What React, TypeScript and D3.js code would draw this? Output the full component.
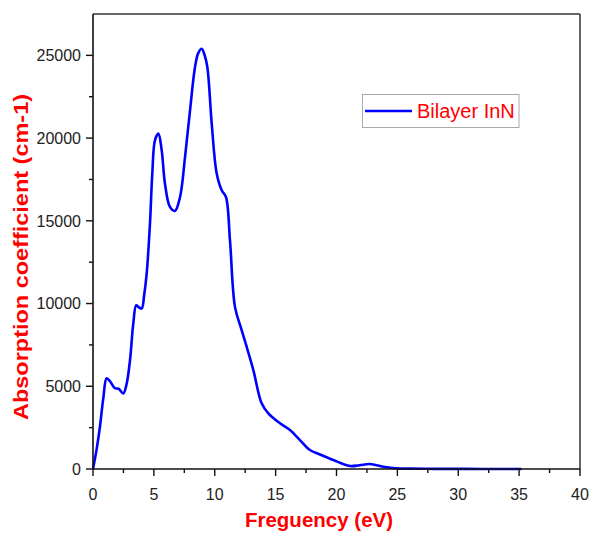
import React from "react";
import * as d3 from "d3";

const freq: number[] = [0, 0.3, 0.57, 0.85, 1.12, 1.4, 1.8, 2.1, 2.49, 2.75, 3.04, 3.31, 3.55, 3.75, 4.0, 4.2, 4.41, 4.68, 4.87, 5.09, 5.37, 5.64, 5.91, 6.32, 6.73, 7.15, 7.56, 7.97, 8.38, 8.65, 8.93, 9.15, 9.39, 9.75, 10.16, 10.57, 10.92, 11.25, 11.66, 12.16, 12.62, 13.17, 13.85, 14.4, 15.36, 16.18, 17.0, 17.82, 18.6, 19.74, 21.1, 21.9, 22.75, 23.84, 24.9, 26, 28, 30, 32, 35.2];
const absorption: number[] = [0, 1200, 2555, 4300, 5480, 5300, 4880, 4850, 4570, 5100, 6580, 8800, 9900, 9780, 9700, 10500, 11820, 14840, 17860, 19870, 20270, 19270, 17250, 15840, 15600, 16440, 18860, 21680, 24300, 25150, 25400, 25050, 24300, 20880, 17860, 16850, 16440, 13830, 9800, 8510, 7390, 5980, 3970, 3360, 2760, 2355, 1750, 1150, 890, 540, 180, 230, 300, 140, 40, 20, 10, 6, 4, 2];

const xTicks: number[] = [0, 5, 10, 15, 20, 25, 30, 35, 40];
const yTicks: number[] = [0, 5000, 10000, 15000, 20000, 25000];
const xMinor: number[] = [2.5, 7.5, 12.5, 17.5, 22.5, 27.5, 32.5, 37.5];
const yMinor: number[] = [2500, 7500, 12500, 17500, 22500];
const seriesName = "Bilayer InN";
const xTitle = "Freguency (eV)";
const yTitle = "Absorption coefficient (cm-1)";

const W = 591, H = 533;
const L = 93, R = 580, T = 14, B = 469;
const font = "'Liberation Sans', Arial, Helvetica, sans-serif";

export default function App() {
  const x = d3.scaleLinear().domain([0, 40]).range([L, R]);
  const y = d3.scaleLinear().domain([0, 27500]).range([B, T]);
  const pts = freq.map((f, i) => [f, absorption[i]] as [number, number]);
  const line = d3
    .line<[number, number]>()
    .x((d) => x(d[0]))
    .y((d) => y(d[1]))
    .curve(d3.curveCatmullRom.alpha(0.5));

  return (
    <svg
      width={W}
      height={H}
      style={{ position: "absolute", left: 0, top: 0, background: "#fff" }}
      fontFamily={font}
    >
      <rect x={0} y={0} width={W} height={H} fill="#fff" />
      {/* frame */}
      <line x1={L} y1={T} x2={R} y2={T} stroke="#333" strokeWidth={1.5} />
      <line x1={R} y1={T} x2={R} y2={B} stroke="#333" strokeWidth={1.5} />
      {/* curve */}
      <path d={line(pts) || ""} fill="none" stroke="#0000ff" strokeWidth={2.6} strokeLinejoin="round" />
      {/* axes */}
      <line x1={L} y1={T} x2={L} y2={B} stroke="#111" strokeWidth={1.6} />
      <line x1={L} y1={B} x2={R} y2={B} stroke="#111" strokeWidth={1.6} />
      {xTicks.map((t) => (
        <g key={"xt" + t}>
          <line x1={x(t)} x2={x(t)} y1={B} y2={B + 7} stroke="#111" strokeWidth={1.4} />
          <text x={x(t)} y={500} textAnchor="middle" fontSize={16} fill="#222">
            {t}
          </text>
        </g>
      ))}
      {xMinor.map((t) => (
        <line key={"xm" + t} x1={x(t)} x2={x(t)} y1={B} y2={B + 4} stroke="#111" strokeWidth={1.4} />
      ))}
      {yTicks.map((t) => (
        <g key={"yt" + t}>
          <line x1={L - 7} x2={L} y1={y(t)} y2={y(t)} stroke="#111" strokeWidth={1.4} />
          <text x={81} y={y(t)} dy="0.36em" textAnchor="end" fontSize={16} fill="#222">
            {t}
          </text>
        </g>
      ))}
      {yMinor.map((t) => (
        <line key={"ym" + t} x1={L - 4} x2={L} y1={y(t)} y2={y(t)} stroke="#111" strokeWidth={1.4} />
      ))}
      {/* titles */}
      <text x={319} y={527} textAnchor="middle" fontSize={20.5} fontWeight="bold" fill="#ff0000">
        {xTitle}
      </text>
      <text
        transform={`translate(28,257) rotate(-90)`}
        textAnchor="middle"
        fontSize={21}
        fontWeight="bold"
        fill="#ff0000"
        textLength={326}
        lengthAdjust="spacingAndGlyphs"
      >
        {yTitle}
      </text>
      {/* legend */}
      <rect x={362.5} y={94.5} width={156.5} height={33} fill="#fff" stroke="#aaa" strokeWidth={1} />
      <line x1={365} x2={412} y1={111} y2={111} stroke="#0000ff" strokeWidth={2.6} />
      <text x={417} y={118} fontSize={20} fill="#ff0000">
        {seriesName}
      </text>
    </svg>
  );
}
